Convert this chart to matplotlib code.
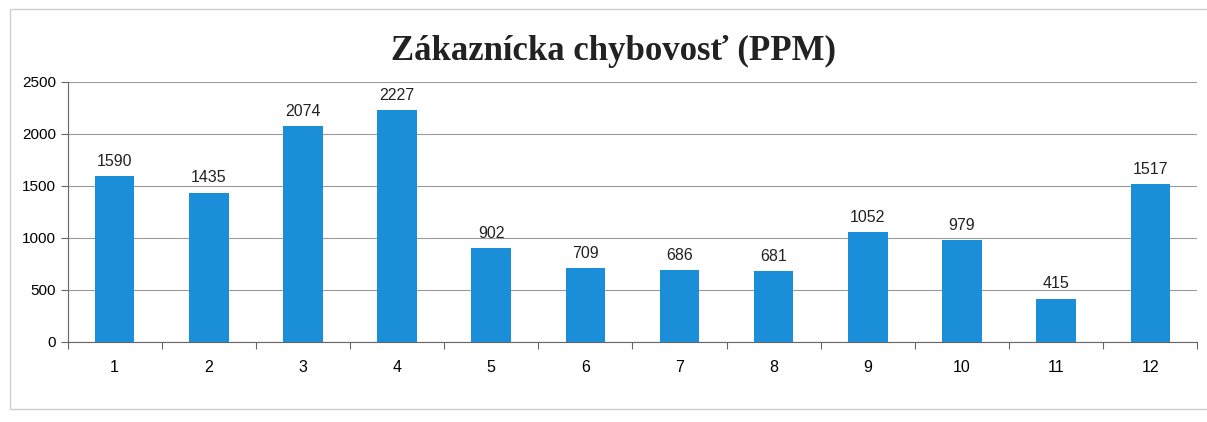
import matplotlib.pyplot as plt
import matplotlib.patches as patches
import numpy as np

# Data
mesiace = [str(i) for i in range(1, 13)]
ppm = [1590, 1435, 2074, 2227, 902, 709, 686, 681, 1052, 979, 415, 1517]
y_ticky = [0, 500, 1000, 1500, 2000, 2500]

fig = plt.figure(figsize=(12.07, 4.22), dpi=100)
ax = fig.add_axes([0.056, 0.19, 0.936, 0.616])

# Light frame of the chart area (as in the scan)
fig.add_artist(patches.Rectangle((0.008, 0.03), 1.2, 0.948, transform=fig.transFigure,
                                 fill=False, edgecolor='#cfcfcf', linewidth=1))

x = np.arange(len(mesiace))
bars = ax.bar(x, ppm, width=0.42, color='#1a8ed8', zorder=3)

for xi, v in zip(x, ppm):
    ax.text(xi, v + 70, str(v), ha='center', va='bottom', fontsize=11.5,
            family='Liberation Sans', color='#222222')

ax.set_xlim(-0.5, len(mesiace) - 0.5)
ax.set_ylim(0, 2500)
ax.set_yticks(y_ticky)
ax.set_yticklabels([str(t) for t in y_ticky], family='Liberation Sans', fontsize=11)
ax.yaxis.grid(True, color='#9a9a9a', linewidth=0.8, zorder=0)

# x ticks between categories, labels centered under bars
ax.set_xticks(np.arange(-0.5, len(mesiace), 1.0))
ax.set_xticklabels([])
ax.set_xticks(x, minor=True)
ax.set_xticklabels(mesiace, minor=True, family='Liberation Sans', fontsize=11.5)
ax.tick_params(axis='x', which='minor', length=0, pad=13)
ax.tick_params(axis='x', which='major', length=5, color='#666666')
ax.tick_params(axis='y', length=5, color='#666666')

for s in ['top', 'right']:
    ax.spines[s].set_visible(False)
for s in ['left', 'bottom']:
    ax.spines[s].set_color('#666666')

fig.text(0.508, 0.878, 'Zákaznícka chybovosť (PPM)', ha='center', va='center',
         fontsize=25, fontweight='bold', family='Liberation Serif', color='#222222')

fig.savefig('out.png', dpi=100)
